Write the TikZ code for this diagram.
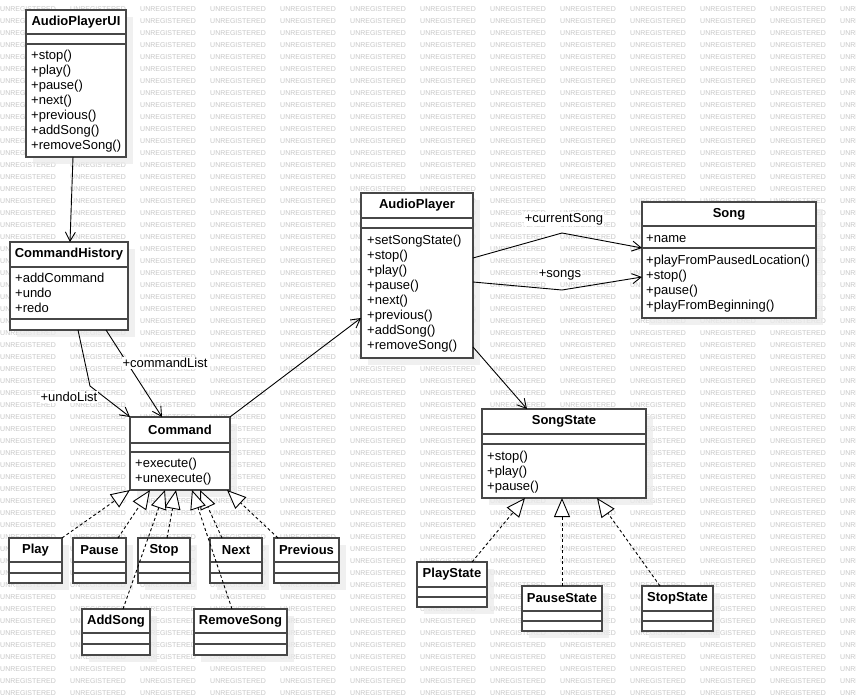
\documentclass[tikz,border=0pt]{standalone}
\usepackage{fontspec}
\setmainfont{Liberation Sans}
\usetikzlibrary{arrows.meta,calc,shadows}

\tikzset{
  watermark/.style={font=\fontsize{7}{7}\selectfont, text=black!22, anchor=west, inner sep=0pt},
  classbox/.style={draw=black!72, line width=1.3pt, fill=white, anchor=north west,
    inner sep=0pt, outer sep=0pt,
    drop shadow={shadow xshift=7pt, shadow yshift=-7pt, fill=black!8, opacity=0.75}},
  sepline/.style={draw=black!72, line width=1.3pt},
  classname/.style={font=\fontsize{13}{15}\selectfont\bfseries, inner sep=0pt},
  member/.style={font=\fontsize{13}{15}\selectfont, anchor=base west, inner sep=0pt},
  assoc/.style={draw=black, line width=0.9pt,
    -{Straight Barb[length=9pt, width=10pt, line width=0.9pt]}},
  realize/.style={draw=black, line width=0.9pt, dash pattern=on 3pt off 2.5pt,
    -{Triangle[open, fill=white, length=19pt, width=16pt, line width=0.9pt]}},
  role/.style={font=\fontsize{13}{15}\selectfont, fill=white, inner sep=1pt},
}

% class box: name, left, top, right, bottom
\newcommand\umlbox[5]{%
  \node[classbox, minimum width={(#4-#2)*1pt}, minimum height={(#5-#3)*1pt}] (#1) at (#2,#3) {};}
% compartment separator at a distance from the top of the box
\newcommand\umlsep[2]{%
  \draw[sepline] ($(#1.north west)+(0,#2)$) -- ($(#1.north east)+(0,#2)$);}
% class name centred in the first compartment
\newcommand\umlname[3]{%
  \node[classname] (#1-name) at ($(#1.north)+(0,#2)$) {#3};}
% list of members: prefix, x, centre of first line, items
\newcommand\umlmembers[4]{%
  \foreach \m [count=\i] in {#4}
    \node[member] (#1-\i) at (#2, #3+15*\i-11) {\m};}

\begin{document}
\begin{tikzpicture}[x=1pt, y=-1pt]
\useasboundingbox (0,0) rectangle (856,695);
\fill[white] (0,0) rectangle (856,695);

% background watermark grid
\foreach \r in {0,...,57}
  \foreach \c in {0,...,12}
    \node[watermark] (wm-\r-\c) at (70*\c, 9+12*\r) {UNREGISTERED};

% ---------- classes ----------
\umlbox{ui}{26}{10}{126}{157}
\umlsep{ui}{24}\umlsep{ui}{34}
\umlname{ui}{12}{AudioPlayerUI}
\umlmembers{ui}{31}{56}{+stop(),+play(),+pause(),+next(),+previous(),+addSong(),+removeSong()}

\umlbox{hist}{10}{242}{128}{330}
\umlsep{hist}{25}\umlsep{hist}{77}
\umlname{hist}{12.5}{CommandHistory}
\umlmembers{hist}{15}{278}{+addCommand,+undo,+redo}

\umlbox{cmd}{130}{417}{230}{490}
\umlsep{cmd}{26}\umlsep{cmd}{35}
\umlname{cmd}{13}{Command}
\umlmembers{cmd}{135}{463}{+execute(),+unexecute()}

\umlbox{ap}{361}{193}{473}{358}
\umlsep{ap}{25}\umlsep{ap}{35}
\umlname{ap}{12.5}{AudioPlayer}
\umlmembers{ap}{367}{240}{+setSongState(),+stop(),+play(),+pause(),+next(),+previous(),+addSong(),+removeSong()}

\umlbox{song}{642}{202}{816}{318}
\umlsep{song}{24}\umlsep{song}{46}
\umlname{song}{12}{Song}
\umlmembers{songattr}{646}{238}{+name}
\umlmembers{song}{646}{260}{+playFromPausedLocation(),+stop(),+pause(),+playFromBeginning()}

\umlbox{state}{482}{409}{646}{498}
\umlsep{state}{25}\umlsep{state}{35}
\umlname{state}{12.5}{SongState}
\umlmembers{state}{487}{456}{+stop(),+play(),+pause()}

% command implementations
\umlbox{play}{9}{538}{62}{583}
\umlsep{play}{24}\umlsep{play}{35}
\umlname{play}{12}{Play}

\umlbox{pause}{73}{538}{126}{583}
\umlsep{pause}{24}\umlsep{pause}{35}
\umlname{pause}{12}{Pause}

\umlbox{stop}{138}{538}{190}{583}
\umlsep{stop}{24}\umlsep{stop}{35}
\umlname{stop}{12}{Stop}

\umlbox{next}{210}{538}{262}{583}
\umlsep{next}{24}\umlsep{next}{35}
\umlname{next}{12}{Next}

\umlbox{previous}{274}{538}{339}{583}
\umlsep{previous}{24}\umlsep{previous}{35}
\umlname{previous}{12}{Previous}

\umlbox{addsong}{82}{609}{150}{655}
\umlsep{addsong}{24}\umlsep{addsong}{35}
\umlname{addsong}{12}{AddSong}

\umlbox{removesong}{194}{609}{287}{655}
\umlsep{removesong}{24}\umlsep{removesong}{35}
\umlname{removesong}{12}{RemoveSong}

% song states
\umlbox{playstate}{417}{562}{487}{607}
\umlsep{playstate}{25}\umlsep{playstate}{35}
\umlname{playstate}{12.5}{PlayState}

\umlbox{pausestate}{522}{586}{602}{631}
\umlsep{pausestate}{25}\umlsep{pausestate}{35}
\umlname{pausestate}{12.5}{PauseState}

\umlbox{stopstate}{642}{586}{713}{631}
\umlsep{stopstate}{25}\umlsep{stopstate}{35}
\umlname{stopstate}{12.5}{StopState}

% ---------- associations ----------
\coordinate (undobend) at (90,386);
\coordinate (curbend) at (562,233);
\coordinate (songsbend) at (562,290);

\draw[assoc] ($(ui.south west)+(47,0)$) -- ($(hist.north west)+(60,0)$);
\draw[assoc] ($(hist.south west)+(68,0)$) -- (undobend) -- (cmd.north west);
\node[role] (undolabel) at (69,397) {+undoList};
\draw[assoc] ($(hist.south west)+(96,0)$) -- ($(cmd.north west)+(32,0)$);
\node[role] (cmdlabel) at (165,363) {+commandList};
\draw[assoc] (cmd.north east) -- ($(ap.north west)+(0,125)$);
\draw[assoc] ($(ap.north east)+(0,65)$) -- (curbend) -- ($(song.north west)+(0,46)$);
\node[role] (curlabel) at (564,219) {+currentSong};
\draw[assoc] ($(ap.north east)+(0,89)$) -- (songsbend) -- ($(song.north west)+(0,75)$);
\node[role] (songslabel) at (560,275) {+songs};
\draw[assoc] ($(ap.south east)+(0,-11)$) -- ($(state.north west)+(45,0)$);

% ---------- realizations ----------
\draw[realize] (play.north east) -- (cmd.south west);
\draw[realize] ($(pause.north west)+(45,0)$) -- ($(cmd.south west)+(20,0)$);
\draw[realize] ($(stop.north west)+(29,0)$) -- ($(cmd.south west)+(46,0)$);
\draw[realize] ($(addsong.north west)+(41,0)$) -- ($(cmd.south west)+(35,0)$);
\draw[realize] ($(next.north west)+(12,0)$) -- ($(cmd.south west)+(70,0)$);
\draw[realize] ($(removesong.north west)+(38,0)$) -- ($(cmd.south west)+(62,0)$);
\draw[realize] ($(previous.north west)+(4,0)$) -- ($(cmd.south west)+(97,0)$);

\draw[realize] ($(playstate.north west)+(55,0)$) -- ($(state.south west)+(43,0)$);
\draw[realize] ($(pausestate.north west)+(40,0)$) -- ($(state.south west)+(80,0)$);
\draw[realize] ($(stopstate.north west)+(18,0)$) -- ($(state.south west)+(115,0)$);
\end{tikzpicture}
\end{document}
